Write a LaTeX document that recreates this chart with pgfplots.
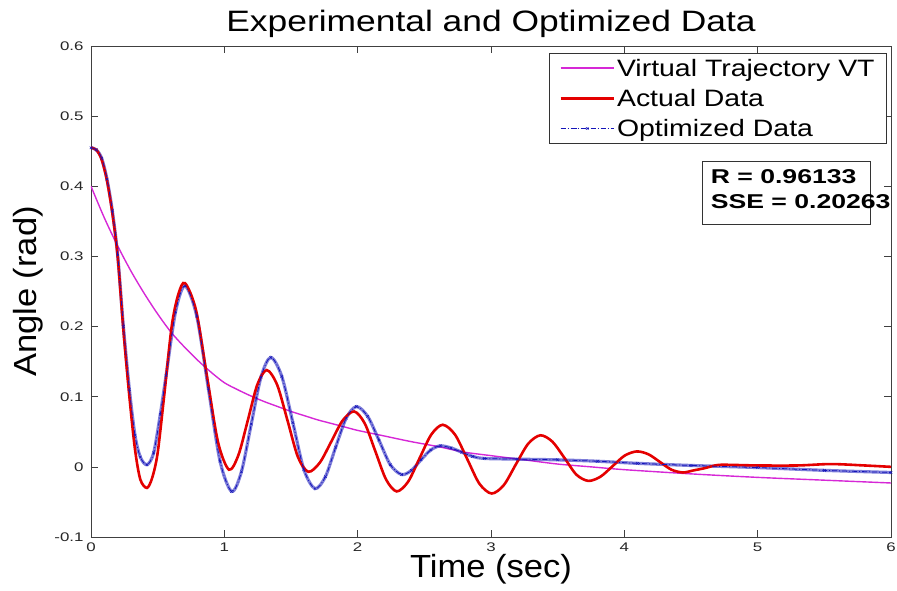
\documentclass[border=0pt]{standalone}
\usepackage{fontspec}
\setmainfont{Liberation Sans}
\newfontfamily\titlefont[FakeStretch=1.2]{Liberation Sans}
\newfontfamily\labfont[FakeStretch=1.08]{Liberation Sans}
\newfontfamily\legfont[FakeStretch=1.2]{Liberation Sans}
\newfontfamily\boxfont[FakeStretch=1.33]{Liberation Sans}
\newfontfamily\tickfont[FakeStretch=1.35]{Liberation Sans}
\usepackage{pgfplots}
\pgfplotsset{compat=1.18}
\usepackage{pgfplotstable}
\definecolor{vtcol}{RGB}{214,40,214}
\definecolor{actcol}{RGB}{228,0,0}
\definecolor{optcol}{RGB}{20,20,185}

\pgfplotstableread{
t y
0.0 0.400
0.1 0.355
0.2 0.315
0.3 0.279
0.4 0.247
0.5 0.218
0.6 0.192
0.7 0.171
0.8 0.152
0.9 0.135
1.0 0.120
1.1 0.110
1.2 0.101
1.3 0.093
1.4 0.086
1.5 0.079
1.6 0.073
1.7 0.067
1.8 0.062
1.9 0.057
2.0 0.052
2.2 0.044
2.4 0.036
2.6 0.029
2.8 0.021
3.0 0.016
3.25 0.010
3.5 0.004
3.75 0.000
4.0 -0.004
4.5 -0.010
5.0 -0.015
5.5 -0.019
6.0 -0.023
}\vtdata

\pgfplotstableread{
t y
0.000 0.455
0.040 0.452
0.080 0.438
0.120 0.408
0.160 0.362
0.200 0.300
0.243 0.195
0.288 0.100
0.330 0.025
0.370 -0.018
0.420 -0.030
0.460 -0.015
0.500 0.020
0.548 0.100
0.605 0.200
0.655 0.246
0.705 0.262
0.788 0.223
0.870 0.129
0.953 0.035
1.035 -0.004
1.106 0.017
1.177 0.067
1.247 0.117
1.318 0.138
1.396 0.117
1.474 0.066
1.552 0.014
1.630 -0.007
1.716 0.006
1.802 0.036
1.887 0.066
1.973 0.079
2.053 0.062
2.133 0.022
2.213 -0.018
2.293 -0.035
2.379 -0.021
2.466 0.013
2.552 0.046
2.638 0.060
2.730 0.046
2.822 0.011
2.913 -0.024
3.005 -0.038
3.096 -0.026
3.188 0.004
3.279 0.033
3.370 0.045
3.460 0.036
3.550 0.013
3.640 -0.011
3.730 -0.020
3.821 -0.014
3.912 0.001
4.002 0.016
4.093 0.022
4.180 0.018
4.267 0.007
4.353 -0.004
4.440 -0.008
4.520 -0.005
4.600 -0.002
4.680 0.002
4.750 0.003
5.000 0.002
5.300 0.002
5.550 0.004
5.800 0.002
6.000 0.000
}\actdata

\pgfplotstableread{
t y
0.000 0.455
0.040 0.452
0.080 0.440
0.120 0.410
0.160 0.365
0.200 0.302
0.243 0.200
0.288 0.110
0.330 0.045
0.370 0.014
0.420 0.003
0.470 0.020
0.520 0.075
0.563 0.130
0.634 0.221
0.705 0.258
0.793 0.215
0.880 0.112
0.968 0.008
1.055 -0.035
1.128 -0.007
1.202 0.061
1.275 0.128
1.348 0.156
1.431 0.129
1.514 0.063
1.597 -0.004
1.680 -0.031
1.758 -0.014
1.835 0.028
1.913 0.069
1.990 0.086
2.075 0.072
2.160 0.038
2.245 0.003
2.330 -0.011
2.403 -0.005
2.475 0.010
2.548 0.024
2.620 0.030
2.700 0.027
2.780 0.021
2.860 0.015
2.950 0.012
3.200 0.011
3.500 0.010
3.800 0.008
4.100 0.005
4.500 0.002
5.000 -0.001
5.500 -0.005
6.000 -0.008
}\optdata

\begin{document}
\begin{tikzpicture}
\begin{axis}[
  name=ax,
  scale only axis,
  width=800pt, height=491pt,
  xmin=0, xmax=6, ymin=-0.1, ymax=0.6,
  xtick={0,1,2,3,4,5,6},
  ytick={-0.1,0,0.1,0.2,0.3,0.4,0.5,0.6},
  tick align=inside,
  major tick length=7pt,
  axis line style={black!75, line width=0.7pt},
  every tick/.style={black!75, line width=0.7pt},
  tick label style={font=\tickfont\fontsize{12.5}{12.5}\selectfont, black!85},
  yticklabel style={xshift=-4pt},
  xticklabel style={yshift=-2pt},
  /pgf/number format/assume math mode=true,
  title={Experimental and Optimized Data},
  title style={at={(axis description cs:0.5,1)}, anchor=base, yshift=9pt,
    font=\titlefont\fontsize{29.5}{29.5}\selectfont},
  xlabel={Time (sec)},
  xlabel style={at={(axis description cs:0.5,0)}, anchor=base, yshift=-40pt,
    font=\labfont\fontsize{32}{32}\selectfont},
  ylabel={Angle (rad)},
  ylabel style={at={(axis description cs:-0.079,0.5)}, anchor=center,
    font=\labfont\fontsize{32}{32}\selectfont},
  legend style={at={(1,1)}, anchor=north east, xshift=-4pt, yshift=-7pt,
    font=\legfont\fontsize{23.7}{23.7}\selectfont, draw=black!80, line width=0.7pt,
    inner xsep=10pt, inner ysep=3.5pt, row sep=7.5pt},
  legend cell align=left,
  legend image code/.code={\draw[mark repeat=2,mark phase=2,#1] plot coordinates {(0pt,0pt) (26.5pt,0pt) (53pt,0pt)};},
]
\addplot[vtcol, line width=1.4pt, smooth] table[x=t,y=y] {\vtdata};
\addlegendentry{Virtual Trajectory VT}
\addplot[optcol, opacity=0.55, line width=3.2pt, smooth, forget plot] table[x=t,y=y] {\optdata};
\addplot[actcol, line width=2.6pt, smooth] table[x=t,y=y] {\actdata};
\addlegendentry{Actual Data}
\addplot[optcol, line width=0.8pt, smooth, dash pattern=on 5pt off 2pt on 1pt off 2pt,
  mark=x, mark size=1.8pt, mark options={solid, line width=0.5pt}] table[x=t,y=y] {\optdata};
\addlegendentry{Optimized Data}
\draw[black!80, line width=0.7pt] (axis description cs:0.764,0.766) rectangle (axis description cs:0.974,0.637);
\node[anchor=base west, align=left, inner sep=0pt,
  font=\boxfont\fontsize{20}{25}\selectfont\bfseries]
  at (axis description cs:0.7745,0.670) {R = 0.96133\\SSE = 0.20263};
\end{axis}
\pgfresetboundingbox
\path[use as bounding box] (ax.south west) ++(-91pt,-53pt) rectangle ++(897pt,590pt);
\end{tikzpicture}
\end{document}
